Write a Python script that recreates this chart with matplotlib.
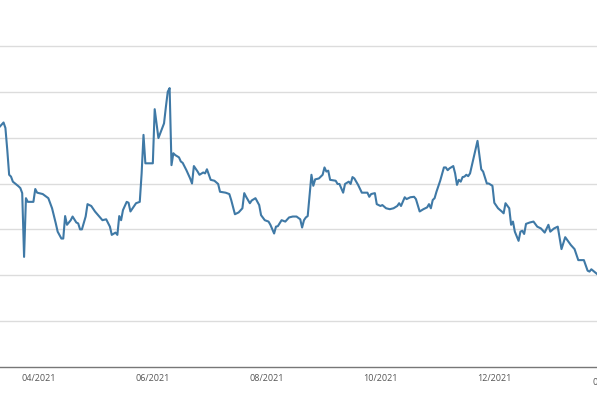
import matplotlib
matplotlib.use("Agg")
import matplotlib.pyplot as plt
import matplotlib.dates as mdates
import pandas as pd

dates = [
    "2021-03-11", "2021-03-13", "2021-03-14", "2021-03-15", "2021-03-16", "2021-03-17", "2021-03-18",
    "2021-03-21", "2021-03-22", "2021-03-23", "2021-03-24", "2021-03-25", "2021-03-26", "2021-03-29",
    "2021-03-30", "2021-03-31", "2021-04-03", "2021-04-06", "2021-04-08", "2021-04-10", "2021-04-11",
    "2021-04-13", "2021-04-14", "2021-04-15", "2021-04-16", "2021-04-18", "2021-04-19", "2021-04-21",
    "2021-04-22", "2021-04-23", "2021-04-24", "2021-04-26", "2021-04-27", "2021-04-29", "2021-05-01",
    "2021-05-04", "2021-05-05", "2021-05-07", "2021-05-09", "2021-05-10", "2021-05-12", "2021-05-13",
    "2021-05-14", "2021-05-15", "2021-05-16", "2021-05-18", "2021-05-19", "2021-05-20", "2021-05-22",
    "2021-05-23", "2021-05-25", "2021-05-26", "2021-05-27", "2021-05-28", "2021-05-30", "2021-06-01",
    "2021-06-02", "2021-06-04", "2021-06-07", "2021-06-08", "2021-06-09", "2021-06-10", "2021-06-11",
    "2021-06-12", "2021-06-13", "2021-06-15", "2021-06-16", "2021-06-17", "2021-06-19", "2021-06-21",
    "2021-06-22", "2021-06-23", "2021-06-25", "2021-06-26", "2021-06-28", "2021-06-29", "2021-06-30",
    "2021-07-02", "2021-07-04", "2021-07-06", "2021-07-07", "2021-07-10", "2021-07-12", "2021-07-13",
    "2021-07-15", "2021-07-17", "2021-07-19", "2021-07-20", "2021-07-21", "2021-07-23", "2021-07-24",
    "2021-07-26", "2021-07-28", "2021-07-29", "2021-07-31", "2021-08-02", "2021-08-03", "2021-08-05",
    "2021-08-06", "2021-08-07", "2021-08-09", "2021-08-11", "2021-08-13", "2021-08-15", "2021-08-17",
    "2021-08-19", "2021-08-20", "2021-08-21", "2021-08-22", "2021-08-23", "2021-08-25", "2021-08-26",
    "2021-08-27", "2021-08-29", "2021-08-31", "2021-09-01", "2021-09-02", "2021-09-03", "2021-09-04",
    "2021-09-07", "2021-09-08", "2021-09-09", "2021-09-11", "2021-09-12", "2021-09-14", "2021-09-15",
    "2021-09-16", "2021-09-17", "2021-09-19", "2021-09-21", "2021-09-24", "2021-09-25", "2021-09-26",
    "2021-09-28", "2021-09-29", "2021-10-01", "2021-10-02", "2021-10-04", "2021-10-06", "2021-10-08",
    "2021-10-10", "2021-10-11", "2021-10-12", "2021-10-14", "2021-10-15", "2021-10-17", "2021-10-19",
    "2021-10-20", "2021-10-22", "2021-10-24", "2021-10-26", "2021-10-27", "2021-10-28", "2021-10-29",
    "2021-10-30", "2021-10-31", "2021-11-02", "2021-11-04", "2021-11-05", "2021-11-06", "2021-11-07",
    "2021-11-09", "2021-11-10", "2021-11-11", "2021-11-12", "2021-11-13", "2021-11-14", "2021-11-15",
    "2021-11-16", "2021-11-17", "2021-11-18", "2021-11-20", "2021-11-21", "2021-11-22", "2021-11-24",
    "2021-11-25", "2021-11-27", "2021-11-28", "2021-11-30", "2021-12-01", "2021-12-03", "2021-12-05",
    "2021-12-06", "2021-12-07", "2021-12-09", "2021-12-10", "2021-12-11", "2021-12-12", "2021-12-14",
    "2021-12-15", "2021-12-16", "2021-12-17", "2021-12-18", "2021-12-20", "2021-12-22", "2021-12-24",
    "2021-12-26", "2021-12-28", "2021-12-30", "2021-12-31", "2022-01-02", "2022-01-04", "2022-01-06",
    "2022-01-08", "2022-01-11", "2022-01-13", "2022-01-15", "2022-01-18", "2022-01-20", "2022-01-21",
    "2022-01-22", "2022-01-25",
]

values = [
    52.4, 53.3, 52.1, 47.3, 41.9, 41.5, 40.4,
    39.4, 39.0, 37.9, 24.0, 36.8, 36.0, 36.0,
    38.8, 38.0, 37.7, 36.8, 34.6, 31.3, 29.5,
    28.0, 28.0, 32.9, 31.0, 32.0, 32.8, 31.5,
    31.3, 30.0, 30.0, 32.8, 35.5, 35.1, 33.9,
    32.5, 32.0, 32.2, 30.6, 28.8, 29.3, 28.8,
    32.9, 32.0, 34.2, 36.0, 35.8, 33.9, 35.1,
    35.7, 36.0, 42.2, 50.6, 44.4, 44.4, 44.4,
    56.2, 49.9, 53.1, 56.7, 60.0, 60.8, 44.0,
    46.6, 46.2, 45.7, 44.8, 44.5, 42.9, 41.1,
    40.0, 43.8, 42.6, 41.9, 42.4, 42.2, 43.1,
    40.8, 40.6, 39.9, 38.2, 38.0, 37.7, 36.4,
    33.3, 33.7, 34.6, 37.9, 37.1, 35.7, 36.3,
    36.8, 35.3, 33.1, 32.0, 31.7, 31.0, 29.1,
    30.6, 30.7, 32.0, 31.7, 32.6, 32.8, 32.8,
    32.2, 30.4, 32.0, 32.6, 32.9, 41.9, 39.5,
    40.9, 41.1, 41.9, 43.5, 42.6, 42.8, 40.8,
    40.6, 39.9, 39.9, 38.0, 39.9, 40.4, 39.9,
    41.4, 41.1, 39.7, 38.0, 38.0, 37.1, 37.7,
    37.9, 35.5, 35.1, 35.3, 34.6, 34.4, 34.6,
    35.1, 35.7, 35.1, 37.0, 36.6, 37.0, 37.1,
    36.6, 33.9, 34.4, 34.8, 35.5, 34.6, 36.4,
    36.8, 38.2, 40.6, 43.5, 43.5, 42.9, 43.3,
    43.8, 42.2, 39.7, 40.8, 40.4, 41.4, 41.5,
    41.9, 41.6, 42.2, 45.7, 47.5, 49.3, 43.1,
    42.6, 40.0, 40.0, 39.5, 35.8, 34.6, 33.9,
    33.5, 35.7, 34.6, 31.0, 31.7, 29.5, 27.5,
    29.5, 29.7, 29.0, 31.2, 31.5, 31.7, 30.6,
    30.2, 29.3, 31.0, 29.5, 30.2, 30.6, 25.7,
    28.3, 26.6, 25.7, 23.3, 23.3, 21.0, 20.8,
    21.3, 20.3,
]

tick_dates = ["2021-04-01", "2021-06-01", "2021-08-01", "2021-10-01", "2021-12-01", "2022-02-01"]

x = pd.to_datetime(dates)
W, H = 597, 398
fig = plt.figure(figsize=(W / 100, H / 100), dpi=100)
ax = fig.add_axes([0, 31 / H, 1, 367 / H])

ax.plot(x, values, color="#3f79a6", linewidth=1.5, solid_joinstyle="round", zorder=3)

ax.set_ylim(0, 80)
ax.set_yticks(range(10, 71, 10))
ax.yaxis.grid(True, color="#dcdcdc", linewidth=1.0)
ax.tick_params(axis="y", length=0, labelleft=False)

left = mdates.date2num(pd.Timestamp("2021-04-01")) - 39 / 1.866
right = mdates.date2num(pd.Timestamp("2022-02-01")) - 13 / 1.866
ax.set_xlim(left, right)

ticks = pd.to_datetime(tick_dates)
ax.set_xticks([t for t in ticks if mdates.date2num(t) <= right])
ax.xaxis.set_major_formatter(mdates.DateFormatter("%m/%Y"))
ax.tick_params(axis="x", length=0, pad=5, labelsize=6.5, labelcolor="#555555")
for lab in ax.get_xticklabels():
    lab.set_fontfamily("Open Sans")

# label beyond the right edge (only partly visible, as in the reference)
for t in ticks:
    if mdates.date2num(t) > right:
        ax.text(mdates.date2num(t), -0.03, t.strftime("%m/%Y"), transform=ax.get_xaxis_transform(),
                ha="center", va="top", fontsize=6.5, color="#555555", family="Open Sans", clip_on=False)

for s in ["top", "left", "right"]:
    ax.spines[s].set_visible(False)
ax.spines["bottom"].set_color("#777777")
ax.spines["bottom"].set_linewidth(1.0)

fig.savefig("out.png", dpi=100)
